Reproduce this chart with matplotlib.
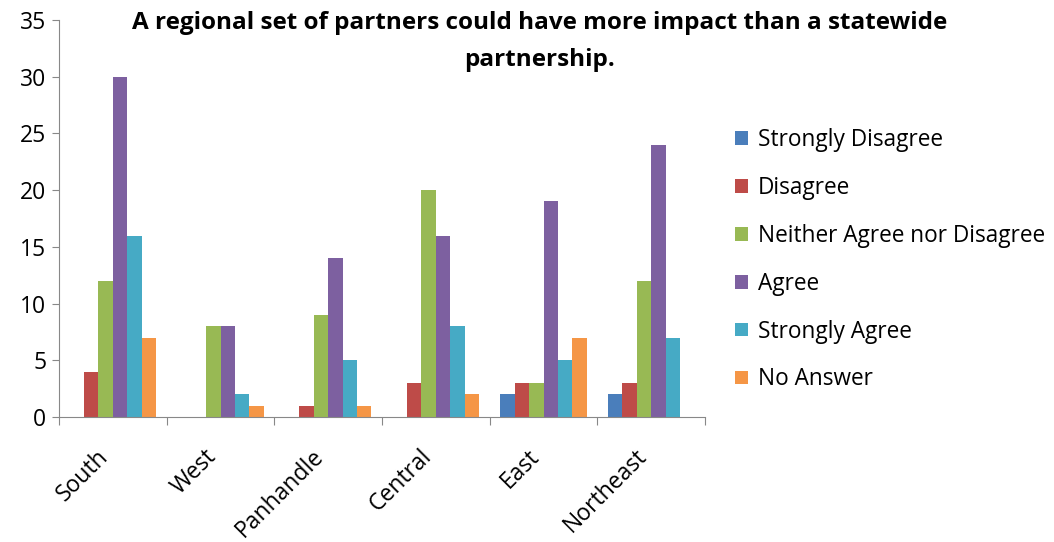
import matplotlib
matplotlib.use("Agg")
import matplotlib.pyplot as plt
import matplotlib.transforms as mtransforms
import numpy as np

plt.rcParams['font.family'] = ['Open Sans', 'DejaVu Sans']

regions = ["South", "West", "Panhandle", "Central", "East", "Northeast"]
series_names = ["Strongly Disagree", "Disagree", "Neither Agree nor Disagree",
                "Agree", "Strongly Agree", "No Answer"]
strongly_disagree = [0, 0, 0, 0, 2, 2]
disagree = [4, 0, 1, 3, 3, 3]
neither = [12, 8, 9, 20, 3, 12]
agree = [30, 8, 14, 16, 19, 24]
strongly_agree = [16, 2, 5, 8, 5, 7]
no_answer = [7, 1, 1, 2, 7, 0]
series = [strongly_disagree, disagree, neither, agree, strongly_agree, no_answer]
colors = ["#4A7EBB", "#BE4B48", "#98B954", "#7D60A0", "#46AAC5", "#F59646"]
yticks = [0, 5, 10, 15, 20, 25, 30, 35]

fig = plt.figure(figsize=(10.54, 5.42), dpi=100)
ax = fig.add_axes([59/1054, 1-417/542, (705-59)/1054, (417-20)/542])

x = np.arange(len(regions))
w = 0.8 / len(series)
for i, (vals, c, name) in enumerate(zip(series, colors, series_names)):
    ax.bar(x - 0.4 + w*(i+0.5), vals, width=w, color=c, label=name)

ax.set_xlim(-0.5, len(regions)-0.5)
ax.set_ylim(0, 35)
ax.set_yticks(yticks)
ax.set_xticks(np.arange(-0.5, len(regions), 1.0))
ax.set_xticklabels([])
ax.set_xticks(x, minor=True)
ax.set_xticklabels(regions, minor=True, rotation=45, ha='right', rotation_mode='anchor', fontsize=16.5)
ax.tick_params(axis='x', which='minor', length=0, pad=20)
ax.tick_params(axis='x', which='major', length=6, color='#888888', direction='out')
ax.tick_params(axis='y', length=5, color='#888888', labelsize=16.5, pad=4)
offset = mtransforms.ScaledTranslation(-16/100, 0, fig.dpi_scale_trans)
for lbl in ax.get_xticklabels(minor=True):
    lbl.set_transform(lbl.get_transform() + offset)
for s in ['top', 'right']:
    ax.spines[s].set_visible(False)
ax.spines['left'].set_color('#888888')
ax.spines['bottom'].set_color('#888888')

fig.text(540/1054, 1-11/542, "A regional set of partners could have more impact than a statewide\npartnership.",
         ha='center', va='top', fontsize=17.5, fontweight='bold', linespacing=1.72)

leg = fig.legend(loc='upper left', bbox_to_anchor=(726/1054, 1-119/542), frameon=False,
                 fontsize=16.3, handlelength=0.55, handleheight=0.55, handletextpad=0.45,
                 labelspacing=1.055, borderaxespad=0)

fig.savefig("out.png", dpi=100)
